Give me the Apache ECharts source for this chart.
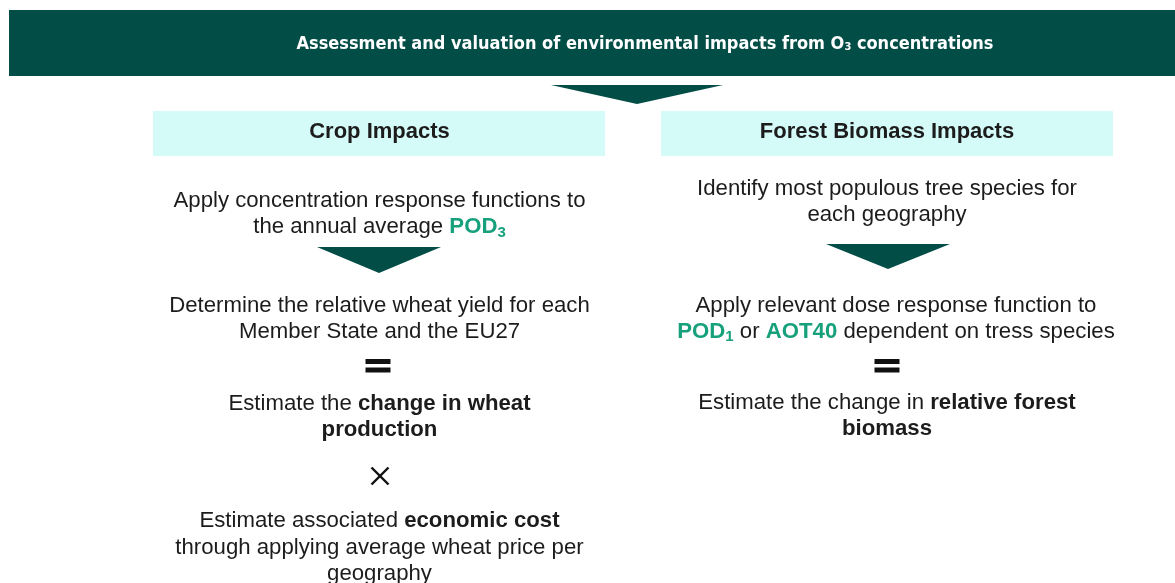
<!DOCTYPE html>
<html>
<head>
<meta charset="utf-8">
<script src="https://cdn.jsdelivr.net/npm/echarts@6/dist/echarts.min.js"></script>
<style>
  html, body { margin: 0; padding: 0; background: #fff; }
  #chart { width: 1175px; height: 583px; }
</style>
</head>
<body>
<div id="chart"></div>
<script>
// texts of the flow diagram
const headerTitle = 'Assessment and valuation of environmental impacts from O{hs|3} concentrations';
const columnTitles = ['Crop Impacts', 'Forest Biomass Impacts'];
const cropLines = [
  'Apply concentration response functions to',
  'the annual average {g|POD}{gs|3}',
  'Determine the relative wheat yield for each',
  'Member State and the EU27',
  'Estimate the {b|change in wheat}',
  '{b|production}',
  'Estimate associated {b|economic cost}',
  'through applying average wheat price per',
  'geography'
];
const forestLines = [
  'Identify most populous tree species for',
  'each geography',
  'Apply relevant dose response function to',
  '{g|POD}{gs|1} or {g|AOT40} dependent on tress species',
  'Estimate the change in {b|relative forest}',
  '{b|biomass}'
];

const TEAL = '#034d47';
const CYAN = '#d5fbf9';
const GREEN = '#16a07b';
const INK = '#1c1c1c';
const FONT = "'Liberation Sans', Arial, sans-serif";
const NARROW = "'Liberation Sans Narrow', 'DejaVu Sans Condensed', sans-serif";
const BODY_SIZE = 22.2;

const chart = echarts.init(document.getElementById('chart'), null, { renderer: 'canvas' });

const richBody = {
  b: { fontWeight: 'bold', fontSize: BODY_SIZE, fontFamily: FONT, fill: INK },
  g: { fontWeight: 'bold', fontSize: BODY_SIZE, fontFamily: FONT, fill: GREEN },
  gs: { fontWeight: 'bold', fontSize: 15, fontFamily: FONT, fill: GREEN, verticalAlign: 'bottom' }
};

function textLine(x, y, str) {
  return {
    type: 'text',
    x: x,
    y: y,
    style: {
      text: str,
      fontSize: BODY_SIZE,
      fontFamily: FONT,
      fill: INK,
      align: 'center',
      verticalAlign: 'middle',
      lineHeight: 26,
      rich: richBody
    }
  };
}

function arrowDown(cx, top, halfW, h) {
  return {
    type: 'polygon',
    shape: { points: [[cx - halfW, top], [cx + halfW, top], [cx, top + h]] },
    style: { fill: TEAL }
  };
}

function equalsSign(cx, top) {
  return [
    { type: 'rect', shape: { x: cx - 12.5, y: top, width: 25, height: 5 }, style: { fill: '#111' } },
    { type: 'rect', shape: { x: cx - 12.5, y: top + 8.5, width: 25, height: 5 }, style: { fill: '#111' } }
  ];
}

function timesSign(cx, cy) {
  const r = 8.5;
  return [
    { type: 'line', shape: { x1: cx - r, y1: cy - r, x2: cx + r, y2: cy + r }, style: { stroke: '#111', lineWidth: 2.4 } },
    { type: 'line', shape: { x1: cx + r, y1: cy - r, x2: cx - r, y2: cy + r }, style: { stroke: '#111', lineWidth: 2.4 } }
  ];
}

const leftX = 379.5;
const rightX = 887;
const cropY = [200.5, 227, 305.5, 331.5, 403.5, 429.5, 521, 547.5, 573.5];
const forestY = [188.5, 214.5, 305.5, 331.5, 403, 429];
const forestX = [887, 887, 896, 896, 887, 887];

const elements = [];

// header band
elements.push({ type: 'rect', shape: { x: 9, y: 10, width: 1166, height: 66 }, style: { fill: TEAL } });
elements.push({
  type: 'text',
  x: 645,
  y: 44,
  style: {
    text: headerTitle,
    fontSize: 18,
    fontWeight: 'bold',
    fontFamily: NARROW,
    fill: '#ffffff',
    align: 'center',
    verticalAlign: 'middle',
    rich: {
      hs: { fontSize: 11, fontWeight: 'bold', fontFamily: NARROW, fill: '#ffffff', verticalAlign: 'bottom' }
    }
  }
});
elements.push(arrowDown(637, 85, 86, 19));

// column title boxes
[[153, leftX], [661, rightX]].forEach(function (c, i) {
  elements.push({ type: 'rect', shape: { x: c[0], y: 111, width: 452, height: 45 }, style: { fill: CYAN } });
  elements.push({
    type: 'text', x: c[1], y: 132,
    style: { text: columnTitles[i], fontSize: 22, fontWeight: 'bold', fontFamily: FONT, fill: INK, align: 'center', verticalAlign: 'middle' }
  });
});

// crop column
cropLines.forEach(function (s, i) { elements.push(textLine(leftX, cropY[i], s)); });
elements.push(arrowDown(379, 247, 62, 26));
elements.push.apply(elements, equalsSign(378, 359));
elements.push.apply(elements, timesSign(380, 476));

// forest column
forestLines.forEach(function (s, i) { elements.push(textLine(forestX[i], forestY[i], s)); });
elements.push(arrowDown(888, 244, 62, 25));
elements.push.apply(elements, equalsSign(887, 359));

chart.setOption({
  backgroundColor: '#ffffff',
  animation: false,
  graphic: { elements: elements }
});

window.addEventListener('resize', function () { chart.resize(); });
</script>
</body>
</html>
